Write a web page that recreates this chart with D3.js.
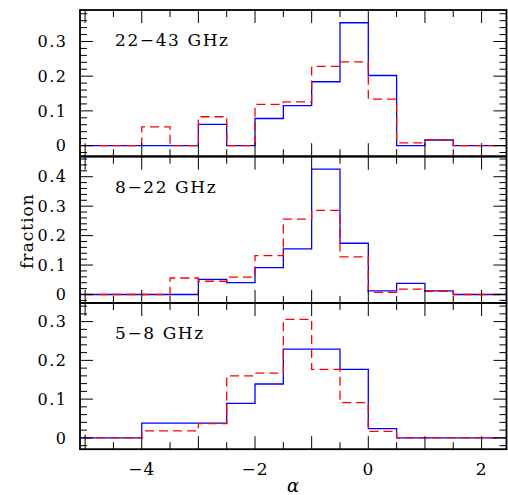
<!DOCTYPE html>
<html>
<head>
<meta charset="utf-8">
<script src="https://cdn.jsdelivr.net/npm/d3@7"></script>
<style>
  body { margin: 0; background: #fff; }
  svg text { font-family: "DejaVu Serif", serif; fill: #000; }
</style>
</head>
<body>
<div id="chart"></div>
<script>
// left edges of the 0.5-wide bins in alpha
const binLeft = [-5.5, -5, -4.5, -4, -3.5, -3, -2.5, -2, -1.5, -1, -0.5, 0, 0.5, 1, 1.5, 2];
const binWidth = 0.5;

const panelNames = ['22\u221243 GHz', '8\u221222 GHz', '5\u22128 GHz'];

const blue2243 = [0, 0, 0, 0, 0, 0.061, 0, 0.078, 0.115, 0.184, 0.354, 0.202, 0, 0.016, 0, 0];
const red2243  = [0, 0, 0, 0.054, 0, 0.083, 0, 0.119, 0.126, 0.228, 0.241, 0.134, 0.008, 0.017, 0, 0];
const blue822  = [0, 0, 0, 0, 0, 0.051, 0.040, 0.091, 0.155, 0.426, 0.174, 0.0125, 0.0375, 0.0125, 0, 0];
const red822   = [0, 0, 0, 0, 0.056, 0.045, 0.059, 0.132, 0.256, 0.286, 0.128, 0.007, 0.018, 0.011, 0, 0];
const blue58   = [0, 0, 0, 0.038, 0.038, 0.038, 0.089, 0.139, 0.229, 0.229, 0.177, 0.024, 0, 0, 0, 0];
const red58    = [0.007, 0, 0, 0.018, 0.018, 0.037, 0.160, 0.167, 0.306, 0.177, 0.091, 0.017, 0, 0, 0, 0];

const yDomains = [[-0.0307, 0.3908], [-0.0286, 0.468], [-0.0292, 0.348]];
const yTickLabels = [[0, 0.1, 0.2, 0.3], [0, 0.1, 0.2, 0.3, 0.4], [0, 0.1, 0.2, 0.3]];
const xTickLabels = [-4, -2, 0, 2];

const panels = [
  {name: panelNames[0], blue: blue2243, red: red2243, yDomain: yDomains[0], yTicks: yTickLabels[0]},
  {name: panelNames[1], blue: blue822, red: red822, yDomain: yDomains[1], yTicks: yTickLabels[1]},
  {name: panelNames[2], blue: blue58, red: red58, yDomain: yDomains[2], yTicks: yTickLabels[2]}
];

var fullWidth = 508, fullHeight = 495;
var left = 80, right = 506.5;
var panelTops = [10, 156.7, 303];
var panelH = 146.2;

var xScale = d3.scaleLinear().domain([-5.09, 2.44]).range([left, right]);

var svg = d3.select('#chart').append('svg')
  .attr('width', fullWidth)
  .attr('height', fullHeight);

var fmt = (v) => (v === 0) ? '0' : d3.format('.1f')(v);
var minus = (s) => s.replace('-', '\u2212');

var line = d3.line().curve(d3.curveStepAfter);

panels.forEach((p, i) => {
  var top = panelTops[i], bottom = top + panelH;
  var yScale = d3.scaleLinear().domain(p.yDomain).range([bottom, top]);
  var g = svg.append('g').attr('class', 'panel');

  g.append('defs').append('clipPath')
    .attr('id', `clip-${i}`)
    .append('rect')
    .attr('x', left).attr('y', top)
    .attr('width', right - left).attr('height', panelH);

  var toPts = (vals) => {
    var pts = binLeft.map((b, k) => [xScale(b), yScale(vals[k])]);
    pts.push([xScale(binLeft[binLeft.length - 1] + binWidth), yScale(vals[vals.length - 1])]);
    return pts;
  };

  var data = g.append('g').attr('clip-path', `url(#clip-${i})`);
  data.append('path')
    .attr('d', line(toPts(p.blue)))
    .attr('fill', 'none')
    .attr('stroke', '#0000ff')
    .attr('stroke-width', 1.3);
  data.append('path')
    .attr('d', line(toPts(p.red)))
    .attr('fill', 'none')
    .attr('stroke', '#ff0000')
    .attr('stroke-width', 1.3)
    .attr('stroke-dasharray', '9,5');

  // x ticks top and bottom (every 0.5, longer on integers)
  var xt = d3.range(-5, 2.5, 0.5);
  xt.forEach((v) => {
    var len = (Math.abs(v - Math.round(v)) < 1e-6) ? 13 : 7;
    var x = xScale(v);
    g.append('line').attr('x1', x).attr('x2', x).attr('y1', bottom).attr('y2', bottom - len)
      .attr('stroke', '#000').attr('stroke-width', 1);
    g.append('line').attr('x1', x).attr('x2', x).attr('y1', top).attr('y2', top + len)
      .attr('stroke', '#000').attr('stroke-width', 1);
  });

  // y ticks left and right (minor 0.02, major 0.1)
  var yt = d3.range(-0.02, p.yDomain[1], 0.02);
  yt.forEach((v) => {
    var major = Math.abs(v * 10 - Math.round(v * 10)) < 1e-6;
    var len = major ? 13 : 7;
    var y = yScale(v);
    g.append('line').attr('x1', left).attr('x2', left + len).attr('y1', y).attr('y2', y)
      .attr('stroke', '#000').attr('stroke-width', 1);
    g.append('line').attr('x1', right).attr('x2', right - len).attr('y1', y).attr('y2', y)
      .attr('stroke', '#000').attr('stroke-width', 1);
  });

  g.selectAll('text.ylab')
    .data(p.yTicks)
    .enter().append('text')
    .attr('class', 'ylab')
    .attr('x', 67.5)
    .attr('y', (d) => yScale(d))
    .attr('dy', '0.36em')
    .attr('text-anchor', 'end')
    .attr('font-size', 16)
    .attr('letter-spacing', 1.5)
    .text(fmt);

  g.append('rect')
    .attr('x', left).attr('y', top)
    .attr('width', right - left).attr('height', panelH)
    .attr('fill', 'none')
    .attr('stroke', '#000')
    .attr('stroke-width', 1.8);

  g.append('text')
    .attr('x', 115)
    .attr('y', top + 36)
    .attr('font-size', 17)
    .attr('letter-spacing', 1.6)
    .text(p.name);

  if (i === panels.length - 1) {
    g.selectAll('text.xlab')
      .data(xTickLabels)
      .enter().append('text')
      .attr('class', 'xlab')
      .attr('x', (d) => xScale(d))
      .attr('y', 475)
      .attr('text-anchor', 'middle')
      .attr('font-size', 17)
      .attr('letter-spacing', 1)
      .text((d) => minus(String(d)));
  }
});

svg.append('text')
  .attr('transform', 'translate(33,231) rotate(-90)')
  .attr('text-anchor', 'middle')
  .attr('font-size', 17)
  .attr('letter-spacing', 1)
  .text('fraction');

svg.append('text')
  .attr('x', 293)
  .attr('y', 492)
  .attr('text-anchor', 'middle')
  .attr('font-size', 18)
  .attr('font-style', 'italic')
  .text('\u03b1');
</script>
</body>
</html>
